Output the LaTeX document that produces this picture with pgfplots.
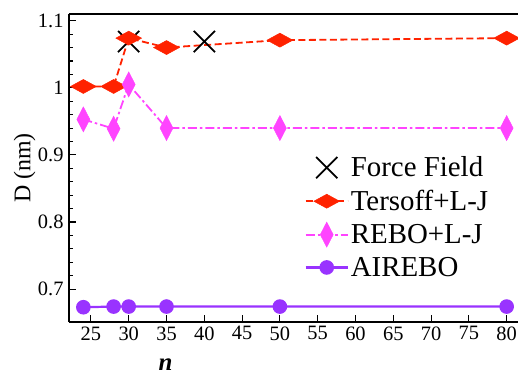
\documentclass[border=0pt]{standalone}
\usepackage{fontspec}
\setmainfont{Liberation Serif}
\usepackage{pgfplots}
\pgfplotsset{compat=1.18}
\definecolor{tred}{RGB}{255,34,0}
\definecolor{rmag}{RGB}{255,68,255}
\definecolor{apur}{RGB}{153,51,255}
\begin{document}
\begin{tikzpicture}
\begin{axis}[
  name=ax,
  scale only axis,
  width=449bp, height=308bp,
  xmin=22.1, xmax=81.5,
  ymin=0.651, ymax=1.11,
  axis x line=box, axis y line=left,
  axis line style={line width=1.3bp, -},
  xtick={25,30,...,80},
  ytick={0.7,0.8,0.9,1,1.1},
  yticklabels={0.7,0.8,0.9,1,1.1},
  minor y tick num=4,
  xtick pos=bottom, ytick pos=left,
  tick align=inside,
  major tick length=7bp, minor tick length=4bp,
  every tick/.style={line width=1.1bp, black},
  /pgf/number format/assume math mode=true,
  tick label style={font=\fontsize{20.5}{20.5}\selectfont},
  yticklabel style={xshift=-2bp},
  xticklabel style={yshift=-1bp},
  xlabel={\fontsize{25}{25}\selectfont\itshape\bfseries n},
  ylabel={\fontsize{24}{24}\selectfont D (nm)},
  xlabel style={at={(ticklabel cs:0.215)}, anchor=center, yshift=-21bp},
  ylabel style={at={(ticklabel cs:0.5)}, anchor=center, yshift=10bp},
  clip=false,
  legend style={at={(0.945,0.55)}, anchor=north east, draw=none, fill=none,
    font=\fontsize{29}{29}\selectfont, row sep=8bp,
    /tikz/every even column/.append style={column sep=5bp}},
  legend cell align=left,
  legend image code/.code={\draw[mark repeat=2,mark phase=2] plot coordinates {(0bp,0bp) (21bp,0bp) (42bp,0bp)};},
]
\addplot[only marks, mark=x, mark size=15bp, mark options={line width=1.8bp, black}]
  coordinates {(30,1.069) (40,1.069)};
\addlegendentry{Force Field}
\addplot[tred, line width=1.8bp, dash pattern=on 7bp off 3.5bp, mark=diamond*, mark size=7bp,
  mark options={solid, xscale=2.45, fill=tred, draw=tred, line width=0.5bp}]
  coordinates {(24,1.002) (28,1.002) (30,1.074) (35,1.060) (50,1.071) (80,1.074)};
\addlegendentry{Tersoff+L-J}
\addplot[rmag, line width=1.8bp, dash pattern=on 9bp off 3bp on 2.5bp off 3bp, mark=diamond*, mark size=12.5bp,
  mark options={solid, xscale=0.69, fill=rmag, draw=rmag, line width=0.5bp}]
  coordinates {(24,0.953) (28,0.939) (30,1.005) (35,0.940) (50,0.940) (80,0.940)};
\addlegendentry{REBO+L-J}
\addplot[apur, line width=2.2bp, mark=*, mark size=6.2bp,
  mark options={solid, fill=apur, draw=apur}]
  coordinates {(24,0.673) (28,0.674) (30,0.674) (35,0.674) (50,0.674) (80,0.674)};
\addlegendentry{AIREBO}
\end{axis}
\pgfresetboundingbox
\useasboundingbox ([xshift=-69bp,yshift=-55bp]ax.south west) rectangle ([yshift=14bp]ax.north east);
\end{tikzpicture}
\end{document}
